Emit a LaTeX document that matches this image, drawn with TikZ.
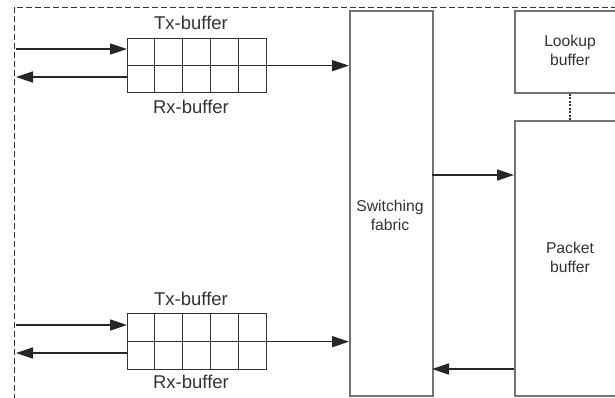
\documentclass[tikz,border=0pt]{standalone}
\usepackage{fontspec}
\setmainfont{Liberation Sans}
\usetikzlibrary{arrows.meta,calc}
\begin{document}
\begin{tikzpicture}[x=1pt,y=-1pt,
  box/.style={draw=black!55, line width=1.8pt, inner sep=0pt},
  grid/.style={draw=black!80, line width=1.3pt},
  lbl/.style={text=black!80, font=\fontsize{18.5}{20}\selectfont, inner sep=0pt},
  boxlbl/.style={text=black!80, font=\fontsize{15.7}{19}\selectfont, align=center, inner sep=0pt},
  arr/.style={draw=black!85, line width=1.5pt, -{Triangle[length=17pt,width=11pt]}},
  border/.style={draw=black!80, line width=0.9pt, dash pattern=on 6pt off 3pt}]
\useasboundingbox (0,0) rectangle (615,397);
\fill[white] (0,0) rectangle (615,397);
% dashed frame
\draw[border] (14,400) -- (14,7) -- (620,7);
% switching fabric
\node[box, minimum width=83pt, minimum height=385pt, anchor=north west] (sf) at (349,10) {};
\node[boxlbl] (sft) at (390,215) {Switching\\fabric};
% lookup buffer
\node[box, minimum width=112pt, minimum height=82pt, anchor=north west] (lb) at (514,10) {};
\node[boxlbl] (lbt) at (570,50) {Lookup\\buffer};
% packet buffer
\node[box, minimum width=112pt, minimum height=275pt, anchor=north west] (pb) at (514,120) {};
\node[boxlbl] (pbt) at (570,257) {Packet\\buffer};
\draw[draw=black!80, line width=1.3pt, dash pattern=on 2pt off 1.5pt] (lb.south -| lbt) -- (pb.north -| lbt);
% fabric <-> packet buffer
\coordinate (a1) at (432,175);
\coordinate (a2) at (432,369);
\draw[arr] (a1) -- (a1 -| pb.west);
\draw[arr] (a2 -| pb.west) -- (a2);
% top buffer
\node[grid, minimum width=139pt, minimum height=54pt, anchor=north west, inner sep=0pt] (q1) at (127,38) {};
\foreach \i in {1,...,4} \draw[grid] ($(q1.north west)+(\i*27.8,0)$) -- ($(q1.south west)+(\i*27.8,0)$);
\draw[grid] (q1.west) -- (q1.east);
\node[lbl] (q1t) at (191,23) {Tx-buffer};
\node[lbl] (q1r) at (191,107) {Rx-buffer};
\coordinate (i1) at (16,49);
\coordinate (o1) at (16,77);
\draw[arr] (i1) -- (i1 -| q1.west);
\draw[arr] (o1 -| q1.west) -- (o1);
\draw[arr] (q1.east) -- (q1.east -| sf.west);
% bottom buffer
\node[grid, minimum width=139pt, minimum height=56pt, anchor=north west, inner sep=0pt] (q2) at (127,313) {};
\foreach \i in {1,...,4} \draw[grid] ($(q2.north west)+(\i*27.8,0)$) -- ($(q2.south west)+(\i*27.8,0)$);
\draw[grid] (q2.west) -- (q2.east);
\node[lbl] (q2t) at (191,299) {Tx-buffer};
\node[lbl] (q2r) at (191,382) {Rx-buffer};
\coordinate (i2) at (16,325);
\coordinate (o2) at (16,353);
\draw[arr] (i2) -- (i2 -| q2.west);
\draw[arr] (o2 -| q2.west) -- (o2);
\draw[arr] (q2.east) -- (q2.east -| sf.west);
\end{tikzpicture}
\end{document}
